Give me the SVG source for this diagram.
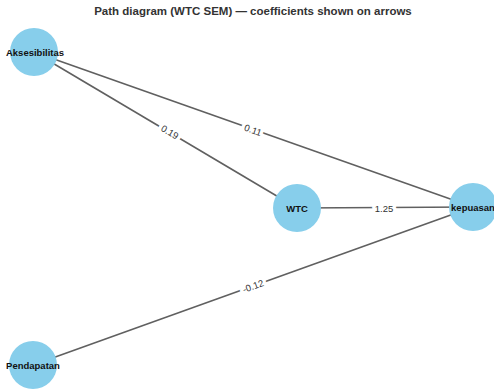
<svg xmlns="http://www.w3.org/2000/svg" width="494" height="392" viewBox="0 0 494 392">
<style>
.title{font-family:"Liberation Sans",Arial,sans-serif;font-weight:bold;font-size:11.5px;fill:#333;text-anchor:middle}
.node circle{fill:#87CEEB;stroke:none}
.node text{font-family:"Liberation Sans",Arial,sans-serif;font-weight:bold;font-size:9.5px;fill:#111;text-anchor:middle;dominant-baseline:central}
.edge line{stroke:#606060;stroke-width:1.6}
.elabel{font-family:"Liberation Sans",Arial,sans-serif;font-size:9.5px;fill:#333;text-anchor:middle;dominant-baseline:central;stroke:#fff;stroke-width:7;paint-order:stroke;stroke-linejoin:round}
</style>
<rect width="494" height="392" fill="#fff"/>
<text class="title" x="253" y="15">Path diagram (WTC SEM) — coefficients shown on arrows</text>
<g id="connectors" class="edge">
<line x1="34" y1="52" x2="473" y2="207"/>
<line x1="34" y1="52" x2="297" y2="208"/>
<line x1="297" y1="208" x2="473" y2="207"/>
<line x1="33" y1="365" x2="473" y2="207"/>
<text class="elabel" transform="translate(253,130) rotate(19.4)">0.11</text>
<text class="elabel" transform="translate(170,132) rotate(30.7)">0.19</text>
<text class="elabel" transform="translate(384,208)">1.25</text>
<text class="elabel" transform="translate(253,286) rotate(-19.8)">-0.12</text>
</g>
<g id="Aksesibilitas" class="node"><circle cx="34" cy="52" r="24"/><text x="35" y="52">Aksesibilitas</text></g>
<g id="WTC" class="node"><circle cx="297" cy="208" r="24"/><text x="297" y="208">WTC</text></g>
<g id="kepuasan" class="node"><circle cx="473" cy="207" r="24"/><text x="473" y="207">kepuasan</text></g>
<g id="Pendapatan" class="node"><circle cx="33" cy="365" r="24"/><text x="33" y="365">Pendapatan</text></g>
</svg>
